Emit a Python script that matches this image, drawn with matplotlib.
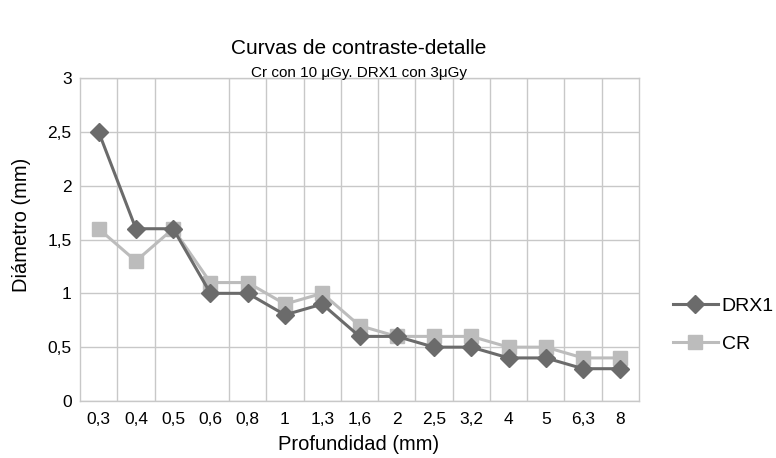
import matplotlib
matplotlib.use("Agg")
import matplotlib.pyplot as plt
import numpy as np

plt.rcParams['font.family'] = ['Liberation Sans', 'DejaVu Sans']

categories = ["0,3", "0,4", "0,5", "0,6", "0,8", "1", "1,3", "1,6", "2", "2,5", "3,2", "4", "5", "6,3", "8"]
drx1 = [2.5, 1.6, 1.6, 1.0, 1.0, 0.8, 0.9, 0.6, 0.6, 0.5, 0.5, 0.4, 0.4, 0.3, 0.3]
cr = [1.6, 1.3, 1.6, 1.1, 1.1, 0.9, 1.0, 0.7, 0.6, 0.6, 0.6, 0.5, 0.5, 0.4, 0.4]
y_ticks = [0, 0.5, 1, 1.5, 2, 2.5, 3]
y_tick_labels = ["0", "0,5", "1", "1,5", "2", "2,5", "3"]

W, H = 776, 458
fig = plt.figure(figsize=(W/100, H/100), dpi=100)
ax = fig.add_axes([80/W, 1 - 401/H, (639-80)/W, (401-78)/H])

grid_c = "#c8c8c8"
x = np.arange(len(categories))
ax.set_xlim(-0.5, len(categories) - 0.5)
ax.set_ylim(0, 3)
for yv in y_ticks:
    ax.axhline(yv, color=grid_c, lw=1, zorder=0)
for i in range(1, len(categories)):
    if i == 3:
        continue
    ax.axvline(i - 0.5, color=grid_c, lw=1, zorder=0)
for s in ax.spines.values():
    s.set_color(grid_c)
    s.set_linewidth(1)

ax.plot(x, cr, color="#bcbcbc", lw=2.2, marker="s", markersize=9.5, label="CR", zorder=2)
ax.plot(x, drx1, color="#6b6b6b", lw=2.2, marker="D", markersize=9, label="DRX1", zorder=3)

ax.set_xticks(x)
ax.set_xticklabels(categories, fontsize=12.5)
ax.set_yticks(y_ticks)
ax.set_yticklabels(y_tick_labels, fontsize=12.5)
ax.tick_params(axis="y", length=0, pad=6)
ax.tick_params(axis="x", length=0, pad=8)

fig.text(359/W, 1 - 445/H, "Profundidad (mm)", ha="center", va="center", fontsize=14.5)
fig.text(22/W, 1 - 225/H, "Diámetro (mm)", ha="center", va="center", rotation=90, fontsize=14.5)

fig.text(359/W, 1 - 48/H, "Curvas de contraste-detalle", ha="center", va="center", fontsize=15)
fig.text(359/W, 1 - 73/H, "Cr con 10 μGy. DRX1 con 3μGy", ha="center", va="center", fontsize=11)

h, l = ax.get_legend_handles_labels()
leg = fig.legend(h[::-1], l[::-1], loc="center left", bbox_to_anchor=(673/W, 1 - 325/H),
                 frameon=False, fontsize=14, handlelength=2.3, labelspacing=1.05,
                 handletextpad=0.2, borderpad=0, borderaxespad=0)

fig.savefig("out.png", dpi=100)
